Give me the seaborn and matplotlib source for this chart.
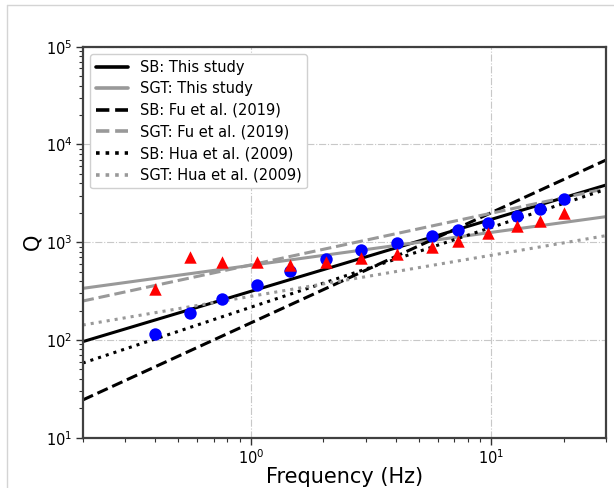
import numpy as np
import pandas as pd
import matplotlib
matplotlib.use("Agg")
import matplotlib.pyplot as plt
import seaborn as sns
from matplotlib.lines import Line2D

# ---- data ----
freq = [0.40, 0.56, 0.76, 1.06, 1.46, 2.05, 2.86, 4.05, 5.65, 7.25, 9.66, 12.8, 16.0, 20.0]
q_sb = [114, 187, 262, 365, 508, 669, 832, 988, 1165, 1342, 1561, 1853, 2186, 2738]
q_sgt = [330, 711, 632, 623, 584, 632, 684, 752, 887, 1036, 1233, 1475, 1660, 1977]

# model lines: Q at the two ends of the frequency axis (0.2 Hz and 30 Hz)
line_f = [0.2, 30.0]
labels = ["SB: This study", "SGT: This study", "SB: Fu et al. (2019)",
          "SGT: Fu et al. (2019)", "SB: Hua et al. (2009)", "SGT: Hua et al. (2009)"]
q_start = [96, 337, 24.3, 250, 58, 142]
q_end = [3845, 1825, 6930, 3540, 3475, 1167]
colors = ["black", "#999999", "black", "#999999", "black", "#999999"]
styles = ["-", "-", "--", "--", ":", ":"]

sns.set_style("white")
plt.rcParams["font.family"] = ["DejaVu Sans"]
plt.rcParams["text.color"] = "black"
plt.rcParams["axes.labelcolor"] = "black"

fig = plt.figure(figsize=(6.14, 4.88), dpi=100)
ax = fig.add_axes([0.1347, 0.1031, 0.8523, 0.8012])

for lab, a, b, c, ls in zip(labels, q_start, q_end, colors, styles):
    df = pd.DataFrame({"f": line_f, "Q": [a, b]})
    sns.lineplot(data=df, x="f", y="Q", ax=ax, color=c, linestyle=ls,
                 linewidth=2.2, label=lab)

sns.scatterplot(x=freq, y=q_sb, ax=ax, color="blue", marker="o", s=80,
                linewidth=0, zorder=5, legend=False)
sns.scatterplot(x=freq, y=q_sgt, ax=ax, color="red", marker="^", s=80,
                linewidth=0, zorder=5, legend=False)

ax.set_xscale("log")
ax.set_yscale("log")
ax.set_xlim(0.2, 30)
ax.set_ylim(10, 1e5)

ax.grid(True, which="major", linestyle="-.", color="#c8c8c8", linewidth=0.8)
ax.set_axisbelow(True)

for sp in ax.spines.values():
    sp.set_color("#404040")
    sp.set_linewidth(1.6)

ax.tick_params(which="both", direction="out", color="#303030", labelcolor="black",
               labelsize=10.5, bottom=True, left=True)
ax.tick_params(which="major", length=5, width=1.0, pad=2.5)
ax.tick_params(which="minor", length=3, width=0.8)

ax.set_xlabel("Frequency (Hz)", fontsize=15, labelpad=0)
ax.set_ylabel("Q", fontsize=15, labelpad=2)

leg = ax.legend(loc="upper left", fontsize=10.5, frameon=True, fancybox=True,
                edgecolor="#d0d0d0", framealpha=1.0, handlelength=2.2,
                labelspacing=0.45)
for t in leg.get_texts():
    t.set_color("black")
for h in leg.get_lines():
    h.set_linewidth(2.6)

# light frame of the figure panel (left and top edges)
fig.add_artist(Line2D([7 / 614, 7 / 614], [0, 1 - 5 / 488], transform=fig.transFigure,
                      color="#d4d4d4", linewidth=1.0))
fig.add_artist(Line2D([7 / 614, 1], [1 - 5 / 488, 1 - 5 / 488], transform=fig.transFigure,
                      color="#d4d4d4", linewidth=1.0))

fig.savefig("out.png", dpi=100)
